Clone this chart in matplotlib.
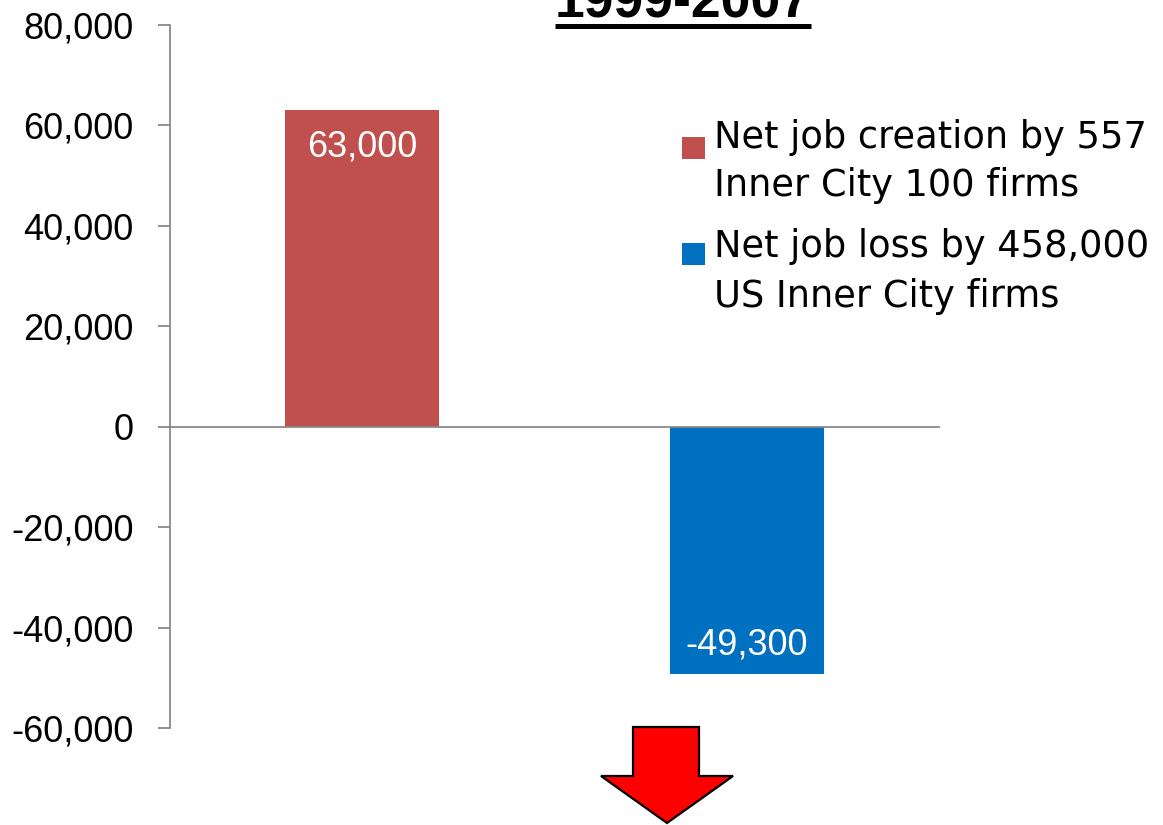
import matplotlib
matplotlib.use('Agg')
import matplotlib.pyplot as plt
from matplotlib.lines import Line2D
from matplotlib.patches import Polygon, Rectangle
from matplotlib.ticker import FuncFormatter

plt.rcParams['font.family'] = ['Liberation Sans', 'DejaVu Sans']

# net jobs, 1999-2007
series = ['Net job creation by 557\nInner City 100 firms',
          'Net job loss by 458,000\nUS Inner City firms']
values = [63000, -49300]
colors = ['#C0504D', '#0070C0']
yticks = [-60000, -40000, -20000, 0, 20000, 40000, 60000, 80000]

W, H = 1163, 825
fig = plt.figure(figsize=(W / 100, H / 100), dpi=100)
ax = fig.add_axes([170 / W, 1 - 728 / H, 769 / W, 703 / H])

pos = list(range(len(values)))
bars = ax.bar(pos, values, width=0.4, color=colors, zorder=2)

ax.set_xlim(-0.5, len(values) - 0.5)
ax.set_ylim(yticks[0], yticks[-1])
ax.set_yticks(yticks)
ax.yaxis.set_major_formatter(FuncFormatter(lambda v, p: f'{int(v):,}'))
ax.tick_params(axis='y', direction='out', length=8.6, width=1.3, color='#898989',
               labelsize=26, pad=17.5)
ax.set_xticks([])

for s in ['top', 'right']:
    ax.spines[s].set_visible(False)
ax.spines['left'].set_color('#898989')
ax.spines['left'].set_linewidth(1.3)
ax.spines['bottom'].set_position(('data', 0))
ax.spines['bottom'].set_color('#898989')
ax.spines['bottom'].set_linewidth(1.3)

# value labels inside the bars
for b, v in zip(bars, values):
    x = b.get_x() + b.get_width() / 2
    off = -33 if v > 0 else 14.4
    ax.annotate(f'{v:,}', xy=(x, v), xytext=(0, off), textcoords='offset points',
                ha='center', va='baseline', color='white', fontsize=26)

# legend drawn by hand so the swatch sits on the first line
sw_top = [137, 243]
base = [[148, 196], [257, 307]]
for lab, c, t, bl in zip(series, colors, sw_top, base):
    fig.add_artist(Rectangle((682 / W, 1 - (t + 22) / H), 23 / W, 22 / H,
                             transform=fig.transFigure, facecolor=c, edgecolor='none'))
    for line, y in zip(lab.split('\n'), bl):
        fig.text(714 / W, 1 - y / H, line, fontsize=26.5, va='baseline', ha='left',
                 family='DejaVu Sans')

# title with underline
fig.text(683 / W, 1 - 18 / H, '1999-2007', fontsize=38.5, fontweight='bold',
         ha='center', va='baseline')
fig.add_artist(Line2D([555 / W, 811 / W], [1 - 25.5 / H, 1 - 25.5 / H],
                      transform=fig.transFigure, color='black', linewidth=3.6,
                      solid_capstyle='butt'))

# red down arrow under the chart
arrow = [(633, 727), (699, 727), (699, 776), (733, 776), (667, 823), (601, 776), (633, 776)]
fig.add_artist(Polygon([(x / W, 1 - y / H) for x, y in arrow], closed=True,
                       transform=fig.transFigure, facecolor='#FF0000',
                       edgecolor='black', linewidth=1.6, joinstyle='miter'))

fig.savefig('out.png', dpi=100)
